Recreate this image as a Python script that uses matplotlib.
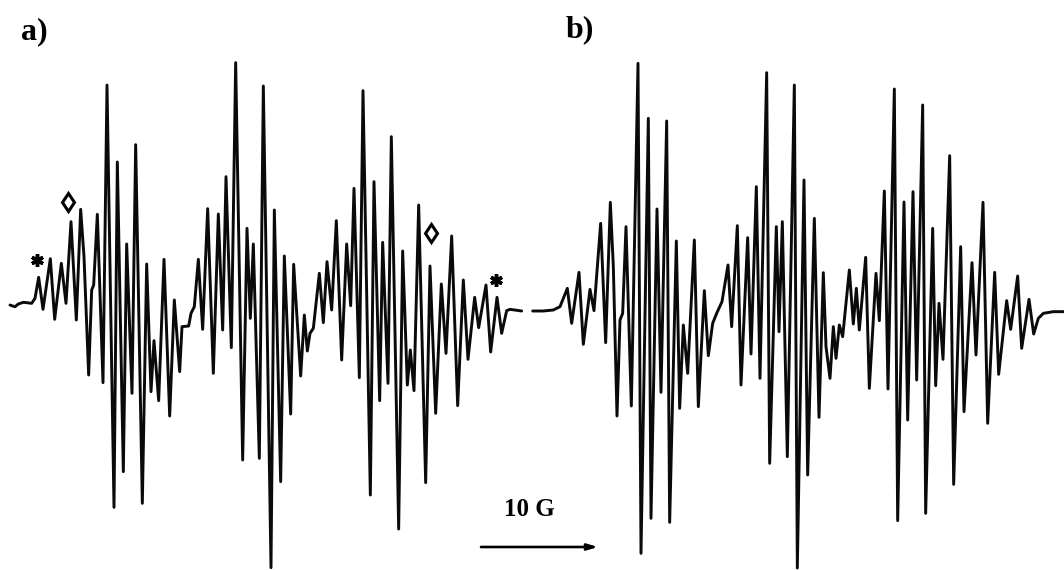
import numpy as np
import matplotlib
matplotlib.use("Agg")
import matplotlib.pyplot as plt

# Values: positions along the field sweep and signal extremes
field_a1 = [30,38,45,55,70,80,95,105,116,129,151,164,184,198,213,229,242,252,266,275,281,292,309,321,342,352,370,380,396,407,427,440,453,462,476,492,509,523,539,546,566,573,583,595,608,623,640,655,668,678,694,707,728,741,751,760,778,790]
level_a1 = [765,768,770,762,757,758,760,745,682,778,626,808,640,760,515,810,478,620,975,720,705,493,998,105,1372,336,1265,582,1030,284,1360,642,1025,872,1052,628,1098,750,965,830,828,790,770,628,838,476,970,492,840,380,893,38,1230,535,805,582,1225,108]
field_a2 = [33,43,62,73,92,101,122,133,142,150,160,178,190,201,215,229,245,260,272,282,298,309,331,342,359,368,384,394,416,428,442,451,462,476,497,510,527,544,558,575,593,610,624,644,656,678,692,711,725,740,750,785]
level_a2 = [1553,480,1295,618,1092,643,978,795,903,850,835,670,818,635,780,512,930,582,767,415,983,122,1335,395,1052,577,1000,260,1437,603,1005,900,1022,465,1298,648,1090,702,910,558,1067,690,928,742,833,705,906,742,850,782,778,783]
field_b1 = [8,40,70,90,100,112,125,147,160,180,192,212,227,241,250,261,270,278,288,304,324,333,355,363,381,393,410,419,439,449,460,473,493,505,523,535,548,560,576,594,605,622,633,653,663,679,690,710,719,739,747,757,772,793]
level_b1 = [783,783,780,770,745,715,820,667,883,718,782,520,878,457,650,1098,810,790,530,1068,40,1510,205,1405,477,1027,213,1417,573,1075,825,970,570,1070,722,917,820,790,755,645,830,527,1005,563,912,410,985,68,1240,530,845,515,1220,105]
field_b2 = [22,42,53,73,87,100,108,120,130,138,148,158,178,190,199,208,227,238,258,268,283,294,313,323,342,353,369,380,398,407,428,437,447,459,479,491,512,522,546,558,579,593,614,626,650,662,683,695,717,731,745,760,790,822]
level_b2 = [1554,390,1275,505,1102,668,890,985,830,925,825,860,660,822,715,840,622,1015,670,812,423,1017,117,1412,456,1110,425,990,165,1390,535,1007,760,928,317,1303,590,1085,638,915,457,1120,667,973,752,838,678,895,748,852,805,790,785,785]

W, H = 1064, 570
fig = plt.figure(figsize=(W / 100, H / 100), dpi=100, facecolor="white")
ax = fig.add_axes([0, 0, 1, 1])
ax.set_xlim(0, W)
ax.set_ylim(H, 0)
ax.axis("off")


def trace(f1, l1, x1, f2, l2, x2):
    x = np.r_[x1 + np.array(f1) / 3, x2 + np.array(f2) / 3]
    y = 50 + np.r_[np.array(l1), np.array(l2)] / 3
    ax.plot(x, y, color="#0a0a0a", lw=2.1, solid_joinstyle="round", solid_capstyle="round")


trace(field_a1, level_a1, 0, field_a2, level_a2, 260)
trace(field_b1, level_b1, 530, field_b2, level_b2, 790)

serif = "Liberation Serif"
ax.text(21, 32, "a)", family=serif, weight="bold", fontsize=23, va="center", ha="left", color="black")
ax.text(566, 30, "b)", family=serif, weight="bold", fontsize=23, va="center", ha="left", color="black")
ax.text(529, 510, "10 G", family=serif, weight="bold", fontsize=18, va="center", ha="center", color="black")
ax.annotate("", xy=(598, 547), xytext=(481, 547),
            arrowprops=dict(arrowstyle="-|>,head_length=0.6,head_width=0.18", color="black", lw=1.9,
                            shrinkA=0, shrinkB=0))
ax.plot([37, 496], [260, 280], ls="none", marker=(6, 2, 0), ms=9, mew=2.5, color="black")
ax.plot([68, 431], [202, 233], ls="none", marker="d", ms=9.5, mew=2.2, mfc="white", mec="black", zorder=5)

fig.savefig("out.png", dpi=100, facecolor="white")
